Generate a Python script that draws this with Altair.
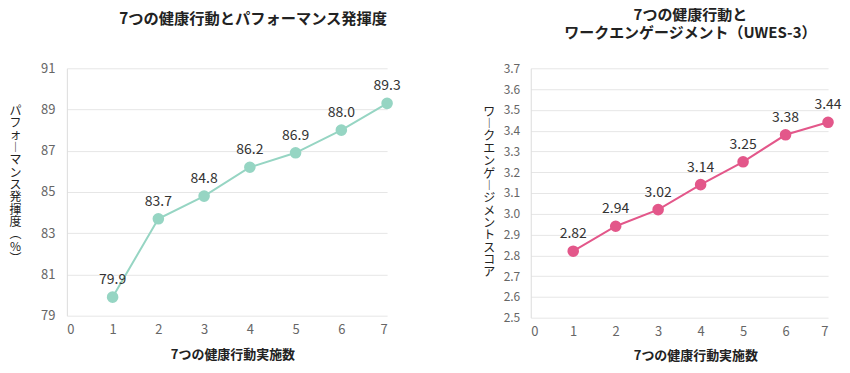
import altair as alt
import pandas as pd

FONT = "Noto Sans CJK JP"

# ---- data ----
x_vals = [1, 2, 3, 4, 5, 6, 7]
perf_vals = [79.9, 83.7, 84.8, 86.2, 86.9, 88.0, 89.3]
eng_vals = [2.82, 2.94, 3.02, 3.14, 3.25, 3.38, 3.44]
x_ticks = [0, 1, 2, 3, 4, 5, 6, 7]
perf_ticks = [79, 81, 83, 85, 87, 89, 91]
eng_ticks = [2.5, 2.6, 2.7, 2.8, 2.9, 3.0, 3.1, 3.2, 3.3, 3.4, 3.5, 3.6, 3.7]
title_left = "7つの健康行動とパフォーマンス発揮度"
title_right = ["7つの健康行動と", "ワークエンゲージメント（UWES-3）"]
x_title = "7つの健康行動実施数"
y_title_left = "パフォーマンス発揮度（%）"
y_title_right = "ワークエンゲージメントスコア"
color_left = "#96d5c3"
color_right = "#e3578a"

VERT = {"ー": "︱", "（": "︵", "）": "︶"}


def vertical(s):
    return [VERT.get(c, c) for c in s]


def panel(xs, vals, fmt, color, ydomain, yticks, yfmt, ytitle, width, height,
          ytitle_x, ytitle_y, xtitle_x, xtitle_y, label_size, label_pad, title):
    df = pd.DataFrame({"n": xs, "v": vals, "lbl": [format(v, fmt) for v in vals]})
    base = alt.Chart(df).encode(
        x=alt.X("n:Q",
                scale=alt.Scale(domain=[0, 7], nice=False),
                axis=alt.Axis(values=x_ticks, title=x_title, grid=False, domain=False,
                              ticks=False, labelPadding=8, labelFontSize=13,
                              labelColor="#666", labelFont=FONT,
                              titleFont=FONT, titleFontSize=13, titleFontWeight="bold",
                              titleColor="#222", titleX=xtitle_x, titleY=xtitle_y,
                              titleAlign="center", titleBaseline="middle")),
        y=alt.Y("v:Q",
                scale=alt.Scale(domain=ydomain, nice=False, zero=False),
                axis=alt.Axis(values=yticks, format=yfmt, title=vertical(ytitle),
                              titleAngle=0, titleX=ytitle_x, titleY=ytitle_y,
                              titleAlign="center", titleBaseline="top",
                              titleLineHeight=12.4, titleFont=FONT, titleFontSize=12,
                              titleFontWeight="normal", titleColor="#222",
                              grid=True, gridColor="#e6e6e6", domain=True,
                              domainColor="#dcdcdc", ticks=False,
                              labelPadding=label_pad, labelFontSize=label_size,
                              labelColor="#666", labelFont=FONT)),
    )
    line = base.mark_line(color=color, strokeWidth=2)
    pts = base.mark_point(filled=True, size=135, opacity=1, color=color)
    lbl = base.mark_text(dy=-17, fontSize=14, color="#333", font=FONT).encode(text="lbl:N")
    return alt.layer(line, pts, lbl).properties(width=width, height=height, title=title)


left = panel(x_vals, perf_vals, ".1f", color_left, [79, 91], perf_ticks, "d",
             y_title_left, 321, 248, -52, 37, 166, 39, 13, 12,
             alt.TitleParams(text=title_left, anchor="end", frame="group", font=FONT,
                             fontSize=15.3, fontWeight="bold", color="#222", offset=35))
right = panel(x_vals, eng_vals, ".2f", color_right, [2.5, 3.7], eng_ticks, ".1f",
              y_title_right, 298, 250, -42, 38, 165, 38, 12, 11,
              alt.TitleParams(text=title_right, anchor="middle", frame="group", dx=11,
                              font=FONT, fontSize=15, fontWeight="bold", color="#222",
                              lineHeight=18, offset=21))

chart = alt.hconcat(left, right, spacing=81).configure_view(stroke=None).properties(
    padding={"left": 0, "top": 0, "right": 0, "bottom": 0}, background="white")

chart.save("out.html", embed_options={"renderer": "svg", "actions": False})
